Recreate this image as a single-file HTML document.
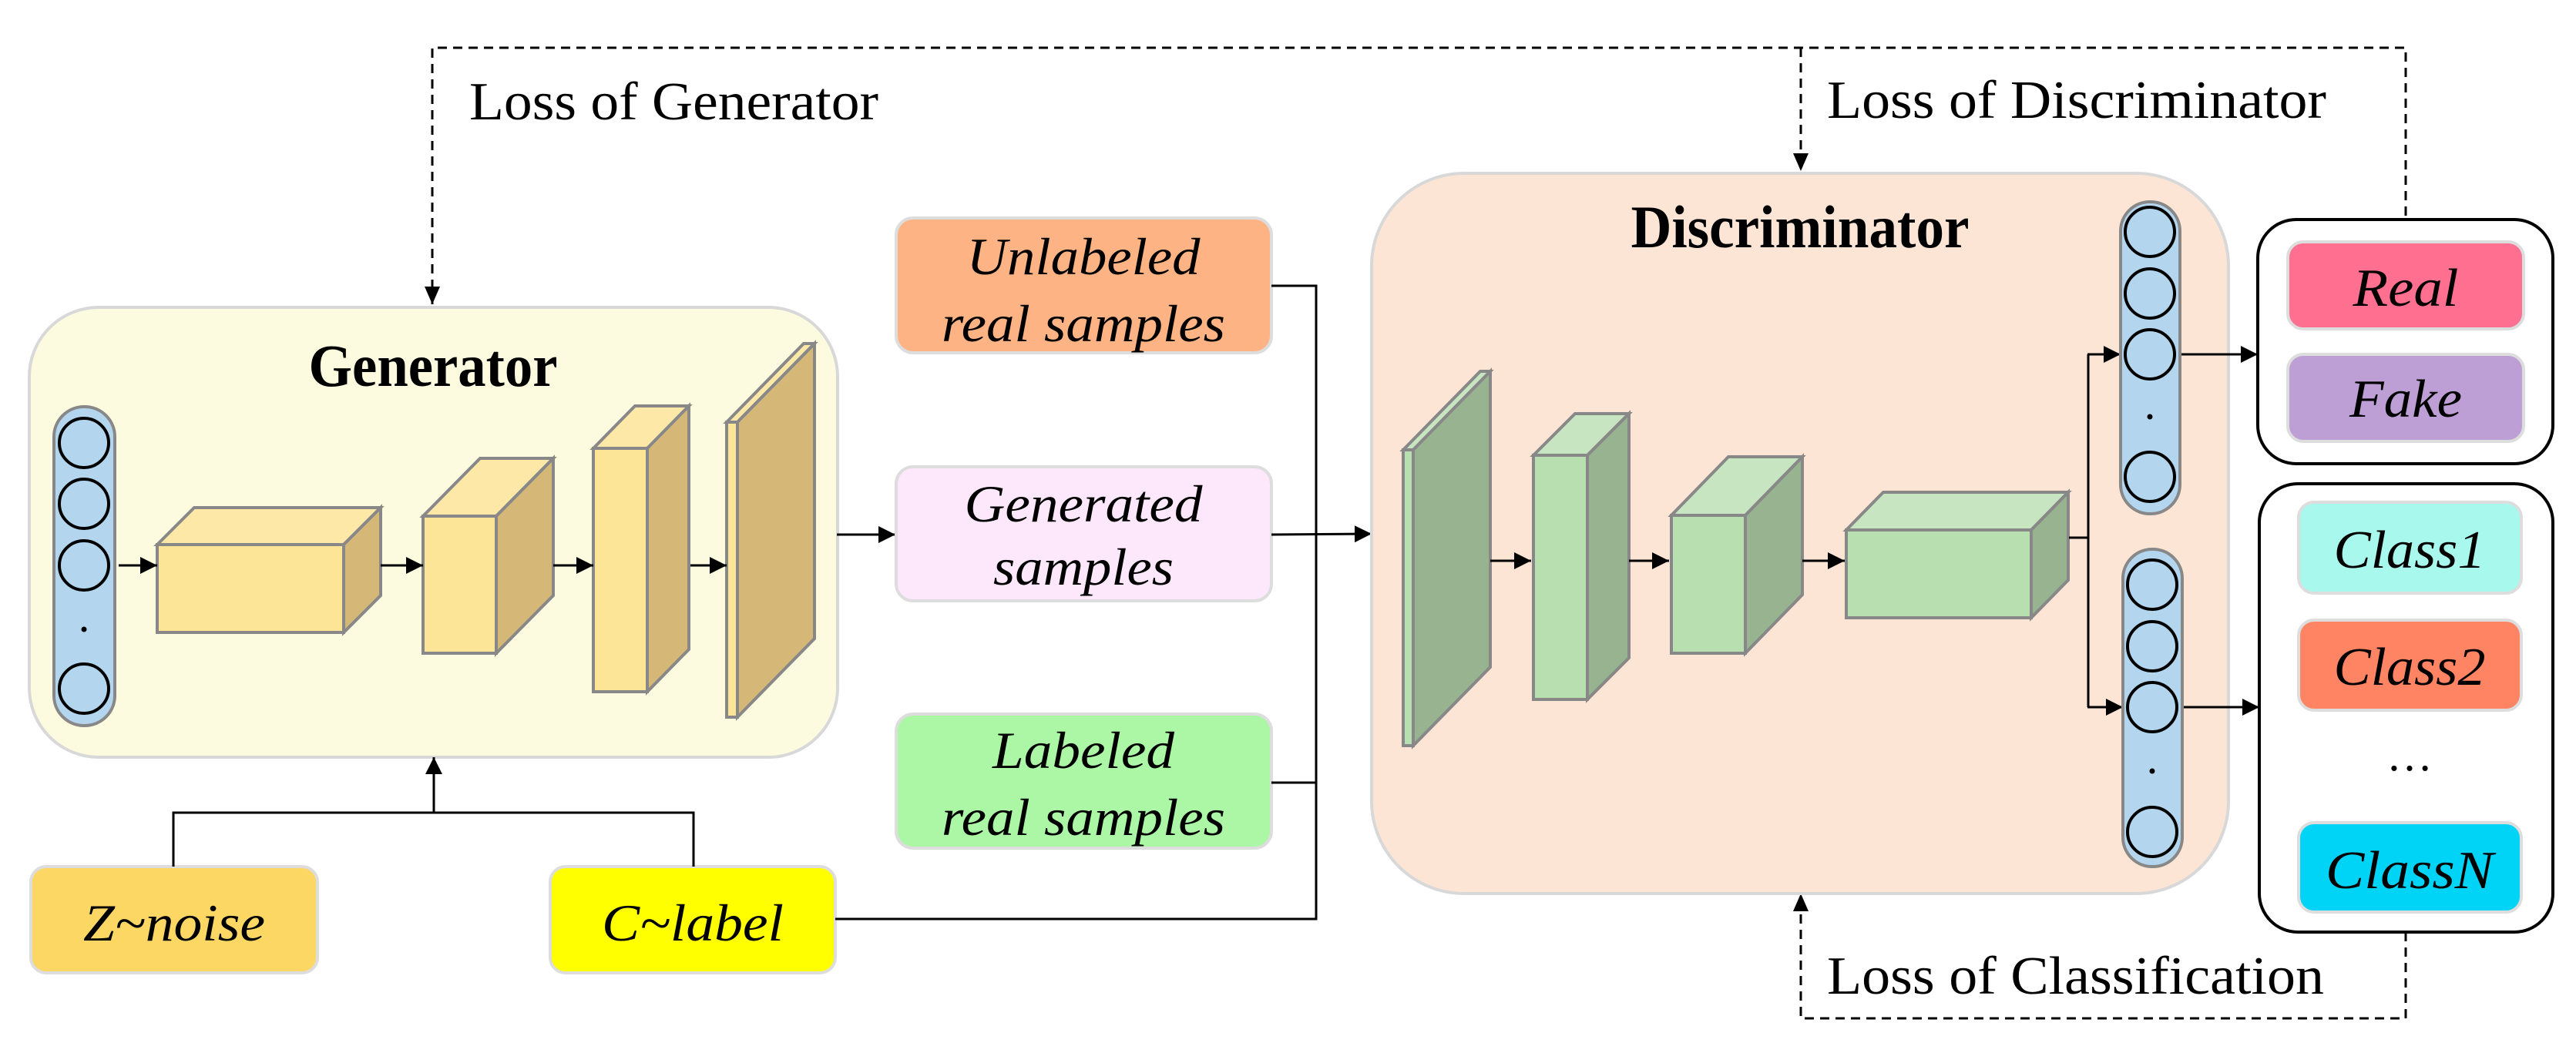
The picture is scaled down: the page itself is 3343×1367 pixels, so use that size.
<!DOCTYPE html>
<html><head><meta charset="utf-8"><style>
html,body{margin:0;padding:0;background:#fff;}
svg{display:block;}
</style></head><body>
<svg width="3343" height="1367" viewBox="0 0 3343 1367" xmlns="http://www.w3.org/2000/svg" font-family="'Liberation Serif','DejaVu Serif','Times New Roman',serif">
<defs>
<marker id="ab" viewBox="0 0 10 10" refX="10" refY="5" markerWidth="22" markerHeight="22" markerUnits="userSpaceOnUse" orient="auto"><path d="M0,0 L10,5 L0,10z" fill="#000"/></marker>
</defs>

<g fill="none" stroke="#000" stroke-width="3" stroke-dasharray="12,8">
<polyline points="561,395 561,62 3122,62 3122,285"/>
<line x1="2337" y1="62" x2="2337" y2="222"/>
<polyline points="3122,1210 3122,1322 2337,1322 2337,1160"/>
</g>
<g fill="#000">
<path d="M551,372 L571,372 L561,395z"/>
<path d="M2327,199 L2347,199 L2337,222z"/>
<path d="M2327,1183 L2347,1183 L2337,1160z"/>
</g>
<g font-family="'Liberation Serif','DejaVu Serif',serif" font-size="70">
<text x="609" y="155" textLength="531" lengthAdjust="spacingAndGlyphs">Loss of Generator</text>
<text x="2371" y="153" textLength="648" lengthAdjust="spacingAndGlyphs">Loss of Discriminator</text>
<text x="2371" y="1290" textLength="645" lengthAdjust="spacingAndGlyphs">Loss of Classification</text>
</g>

<rect x="38" y="399" width="1049" height="584" rx="90" fill="#fdfbdf" stroke="#d8d8d8" stroke-width="4"/>
<text x="562" y="501" font-family="'Liberation Serif','DejaVu Serif',serif" font-size="78" font-weight="bold" text-anchor="middle" textLength="323" lengthAdjust="spacingAndGlyphs">Generator</text>
<rect x="70" y="528" width="79" height="414" rx="39" fill="#b3d6ee" stroke="#888" stroke-width="4"/>
<g fill="none" stroke="#000" stroke-width="4">
<circle cx="109" cy="575" r="32"/><circle cx="109" cy="654" r="32"/><circle cx="109" cy="734" r="32"/><circle cx="109" cy="894" r="32"/>
</g>
<circle cx="109" cy="817" r="3.5" fill="#000"/>

<g stroke="#888" stroke-width="4">
<path d="M204,707 L252,659 L494,659 L446,707z" fill="#fde8a8"/>
<path d="M446,707 L494,659 L494,773 L446,821z" fill="#d5b877"/>
<rect x="204" y="707" width="242" height="114" fill="#fde598"/>
<path d="M549,670 L623,595 L718,595 L644,670z" fill="#fde8a8"/>
<path d="M644,670 L718,595 L718,773 L644,848z" fill="#d5b877"/>
<rect x="549" y="670" width="95" height="178" fill="#fde598"/>
<path d="M770,582 L824,527 L894,527 L840,582z" fill="#fde8a8"/>
<path d="M840,582 L894,527 L894,843 L840,898z" fill="#d5b877"/>
<rect x="770" y="582" width="70" height="316" fill="#fde598"/>
<path d="M943,548 L1043,446 L1057,446 L957,548z" fill="#fde8a8"/>
<path d="M957,548 L1057,446 L1057,829 L957,931z" fill="#d5b877"/>
<rect x="943" y="548" width="14" height="383" fill="#fde598"/>
</g>
<g stroke="#000" stroke-width="3" marker-end="url(#ab)">
<line x1="154" y1="734" x2="204" y2="734"/>
<line x1="494" y1="734" x2="549" y2="734"/>
<line x1="718" y1="734" x2="770" y2="734"/>
<line x1="896" y1="734" x2="943" y2="734"/>
<line x1="1086" y1="694" x2="1162" y2="694"/>
</g>

<rect x="40" y="1125" width="372" height="138" rx="20" fill="#fdd764" stroke="#ddd" stroke-width="4"/>
<rect x="714" y="1125" width="370" height="138" rx="20" fill="#ffff00" stroke="#ddd" stroke-width="4"/>
<g font-family="'Liberation Serif','DejaVu Serif',serif" font-style="italic" font-size="68" text-anchor="middle">
<text x="226" y="1221" textLength="236" lengthAdjust="spacingAndGlyphs">Z~noise</text>
<text x="899" y="1221" textLength="236" lengthAdjust="spacingAndGlyphs">C~label</text>
</g>
<g fill="none" stroke="#000" stroke-width="3">
<polyline points="225,1125 225,1055 900,1055 900,1125"/>
<line x1="563" y1="1055" x2="563" y2="983" marker-end="url(#ab)"/>
</g>

<rect x="1163" y="283" width="487" height="175" rx="22" fill="#fdb383" stroke="#ddd" stroke-width="4"/>
<rect x="1163" y="606" width="487" height="174" rx="22" fill="#fde8fb" stroke="#ddd" stroke-width="4"/>
<rect x="1163" y="927" width="487" height="174" rx="22" fill="#abf7a5" stroke="#ddd" stroke-width="4"/>
<g font-family="'Liberation Serif','DejaVu Serif',serif" font-style="italic" font-size="68" text-anchor="middle">
<text x="1406" y="356" textLength="303" lengthAdjust="spacingAndGlyphs">Unlabeled</text>
<text x="1406" y="443" textLength="368" lengthAdjust="spacingAndGlyphs">real samples</text>
<text x="1406" y="677" textLength="309" lengthAdjust="spacingAndGlyphs">Generated</text>
<text x="1406" y="759" textLength="234" lengthAdjust="spacingAndGlyphs">samples</text>
<text x="1406" y="997" textLength="236" lengthAdjust="spacingAndGlyphs">Labeled</text>
<text x="1406" y="1084" textLength="368" lengthAdjust="spacingAndGlyphs">real samples</text>
</g>
<g fill="none" stroke="#000" stroke-width="3">
<polyline points="1650,371 1708,371 1708,1193 1084,1193"/>
<line x1="1650" y1="1016" x2="1708" y2="1016"/>
<line x1="1650" y1="694" x2="1780" y2="693" marker-end="url(#ab)"/>
</g>

<rect x="1780" y="225" width="1112" height="935" rx="120" fill="#fde5d6" stroke="#d8d8d8" stroke-width="4"/>
<text x="2336" y="321" font-family="'Liberation Serif','DejaVu Serif',serif" font-size="78" font-weight="bold" text-anchor="middle" textLength="439" lengthAdjust="spacingAndGlyphs">Discriminator</text>
<g stroke="#888" stroke-width="4">
<path d="M1821,584 L1921,482 L1934,482 L1834,584z" fill="#c7e5c0"/>
<path d="M1834,584 L1934,482 L1934,866 L1834,968z" fill="#97b38f"/>
<rect x="1821" y="584" width="13" height="384" fill="#b8dfb0"/>
<path d="M1990,591 L2044,537 L2114,537 L2060,591z" fill="#c7e5c0"/>
<path d="M2060,591 L2114,537 L2114,854 L2060,908z" fill="#97b38f"/>
<rect x="1990" y="591" width="70" height="317" fill="#b8dfb0"/>
<path d="M2169,669 L2243,593 L2339,593 L2265,669z" fill="#c7e5c0"/>
<path d="M2265,669 L2339,593 L2339,772 L2265,848z" fill="#97b38f"/>
<rect x="2169" y="669" width="96" height="179" fill="#b8dfb0"/>
<path d="M2396,688 L2444,639 L2684,639 L2636,688z" fill="#c7e5c0"/>
<path d="M2636,688 L2684,639 L2684,753 L2636,802z" fill="#97b38f"/>
<rect x="2396" y="688" width="240" height="114" fill="#b8dfb0"/>
</g>
<g stroke="#000" stroke-width="3" fill="none">
<line x1="1934" y1="728" x2="1987" y2="728" marker-end="url(#ab)"/>
<line x1="2114" y1="728" x2="2166" y2="728" marker-end="url(#ab)"/>
<line x1="2339" y1="728" x2="2394" y2="728" marker-end="url(#ab)"/>
<polyline points="2685,698 2710,698"/>
<line x1="2710" y1="460" x2="2710" y2="918"/>
<line x1="2709" y1="460" x2="2752" y2="460" marker-end="url(#ab)"/>
<line x1="2709" y1="918" x2="2755" y2="918" marker-end="url(#ab)"/>
<line x1="2828" y1="460" x2="2930" y2="460" marker-end="url(#ab)"/>
<line x1="2831" y1="918" x2="2932" y2="918" marker-end="url(#ab)"/>
</g>
<rect x="2752" y="262" width="77" height="405" rx="38" fill="#b3d6ee" stroke="#888" stroke-width="4"/>
<rect x="2755" y="713" width="77" height="412" rx="38" fill="#b3d6ee" stroke="#888" stroke-width="4"/>
<g fill="none" stroke="#000" stroke-width="4">
<circle cx="2790" cy="301" r="32"/><circle cx="2790" cy="381" r="32"/><circle cx="2790" cy="460" r="32"/><circle cx="2790" cy="619" r="32"/>
<circle cx="2793" cy="759" r="32"/><circle cx="2793" cy="839" r="32"/><circle cx="2793" cy="918" r="32"/><circle cx="2793" cy="1080" r="32"/>
</g>
<circle cx="2790" cy="541" r="3.5" fill="#000"/>
<circle cx="2793" cy="1001" r="3.5" fill="#000"/>

<rect x="2930" y="285" width="383" height="317" rx="50" fill="#fff" stroke="#000" stroke-width="4"/>
<rect x="2969" y="314" width="306" height="113" rx="20" fill="#fe6f90" stroke="#ddd" stroke-width="4"/>
<rect x="2969" y="460" width="306" height="113" rx="20" fill="#bd9fd5" stroke="#ddd" stroke-width="4"/>
<rect x="2932" y="628" width="381" height="582" rx="50" fill="#fff" stroke="#000" stroke-width="4"/>
<rect x="2983" y="652" width="289" height="118" rx="20" fill="#a8f8ee" stroke="#ddd" stroke-width="4"/>
<rect x="2983" y="805" width="289" height="117" rx="20" fill="#fe8463" stroke="#ddd" stroke-width="4"/>
<rect x="2983" y="1068" width="289" height="116" rx="20" fill="#00d4f6" stroke="#ddd" stroke-width="4"/>
<g font-family="'Liberation Serif','DejaVu Serif',serif" font-style="italic" font-size="70" text-anchor="middle">
<text x="3122" y="397" textLength="137" lengthAdjust="spacingAndGlyphs">Real</text>
<text x="3122" y="541" textLength="146" lengthAdjust="spacingAndGlyphs">Fake</text>
<text x="3127" y="737" textLength="197" lengthAdjust="spacingAndGlyphs">Class1</text>
<text x="3127" y="889" textLength="197" lengthAdjust="spacingAndGlyphs">Class2</text>
<text x="3127" y="1153" textLength="218" lengthAdjust="spacingAndGlyphs">ClassN</text>
</g>
<text x="3127" y="1000" text-anchor="middle" font-size="60" font-family="'Liberation Serif',serif">…</text>
</svg>
</body></html>
